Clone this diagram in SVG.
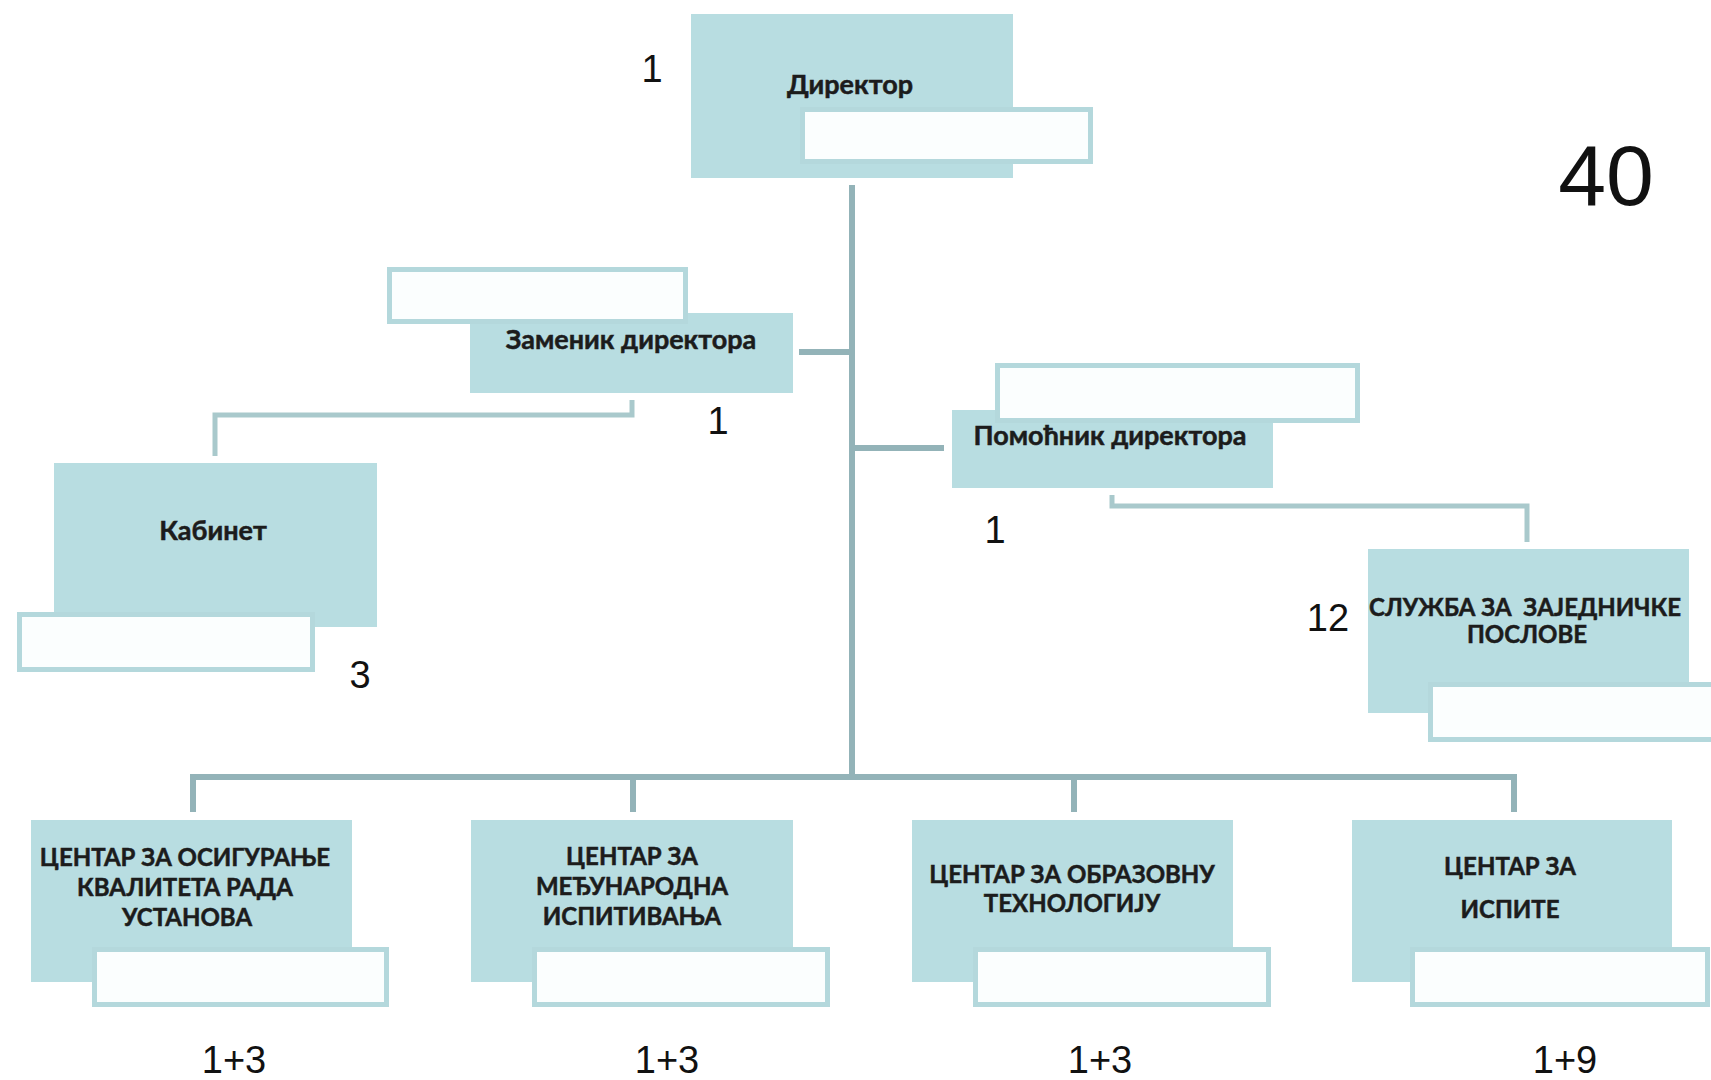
<svg xmlns="http://www.w3.org/2000/svg" width="1711" height="1080" viewBox="0 0 1711 1080">
<style>
.box{fill:#b8dde1}
.note{fill:#fbfefe;stroke:#b4d8dc;stroke-width:5}
.lbl{font-family:Lato,"Open Sans","DejaVu Sans",sans-serif;font-weight:bold;fill:#1c1c1c;stroke:#1c1c1c;stroke-width:0.5;text-anchor:middle}
.big{font-size:27px}
.sm{font-size:24px}
.num{font-family:"Liberation Sans",Arial,sans-serif;font-size:38px;fill:#111;text-anchor:middle}
.trunk{stroke:#93b3b8;stroke-width:6;fill:none}
.sub{stroke:#a9c9cc;stroke-width:5;fill:none}
</style>
<rect width="1711" height="1080" fill="#ffffff"/>
<g id="connectors">
<path class="trunk" d="M852 185V777"/>
<path class="trunk" d="M799 352H852"/>
<path class="trunk" d="M852 448H944"/>
<path class="trunk" d="M193 812V777H1514V812"/>
<path class="trunk" d="M633 777V812"/>
<path class="trunk" d="M1074 777V812"/>
<path class="sub" d="M632 400V415H215V456"/>
<path class="sub" d="M1112 495V506H1527V542"/>
</g>
<g id="director">
<rect class="box" x="691" y="14" width="322" height="164"/>
<rect class="note" x="802.5" y="109.5" width="288" height="52"/>
<text class="lbl big" x="850" y="94">Директор</text>
</g>
<g id="zamenik">
<rect class="box" x="470" y="313" width="323" height="80"/>
<rect class="note" x="389.5" y="269.5" width="296" height="52"/>
<text class="lbl big" x="631" y="349">Заменик директора</text>
</g>
<g id="kabinet">
<rect class="box" x="54" y="463" width="323" height="164"/>
<rect class="note" x="19.5" y="614.5" width="293" height="55"/>
<text class="lbl big" x="213" y="540">Кабинет</text>
</g>
<g id="pomocnik">
<rect class="box" x="952" y="410" width="321" height="78"/>
<rect class="note" x="997.5" y="365.5" width="360" height="55"/>
<text class="lbl big" x="1110" y="445">Помоћник директора</text>
</g>
<g id="sluzba">
<rect class="box" x="1368" y="549" width="321" height="164"/>
<rect class="note" x="1430.5" y="684.5" width="290" height="55"/>
<text class="lbl sm" x="1525" y="616" xml:space="preserve">СЛУЖБА ЗА  ЗАЈЕДНИЧКЕ</text>
<text class="lbl sm" x="1527" y="643">ПОСЛОВЕ</text>
</g>
<g id="centar1">
<rect class="box" x="31" y="820" width="321" height="162"/>
<rect class="note" x="94.5" y="949.5" width="292" height="55"/>
<text class="lbl sm" x="185" y="866">ЦЕНТАР ЗА ОСИГУРАЊЕ</text>
<text class="lbl sm" x="185" y="896">КВАЛИТЕТА РАДА</text>
<text class="lbl sm" x="187" y="926">УСТАНОВА</text>
</g>
<g id="centar2">
<rect class="box" x="471" y="820" width="322" height="162"/>
<rect class="note" x="534.5" y="949.5" width="293" height="55"/>
<text class="lbl sm" x="632" y="865">ЦЕНТАР ЗА</text>
<text class="lbl sm" x="632" y="895">МЕЂУНАРОДНА</text>
<text class="lbl sm" x="632" y="925">ИСПИТИВАЊА</text>
</g>
<g id="centar3">
<rect class="box" x="912" y="820" width="321" height="162"/>
<rect class="note" x="975.5" y="949.5" width="293" height="55"/>
<text class="lbl sm" x="1072" y="883">ЦЕНТАР ЗА ОБРАЗОВНУ</text>
<text class="lbl sm" x="1072" y="912">ТЕХНОЛОГИЈУ</text>
</g>
<g id="centar4">
<rect class="box" x="1352" y="820" width="320" height="162"/>
<rect class="note" x="1412.5" y="949.5" width="295" height="55"/>
<text class="lbl sm" x="1510" y="875">ЦЕНТАР ЗА</text>
<text class="lbl sm" x="1510" y="918">ИСПИТЕ</text>
</g>
<g id="numbers">
<text class="num" x="652" y="82">1</text>
<text class="num" x="718" y="434">1</text>
<text class="num" x="995" y="543">1</text>
<text class="num" x="360" y="688">3</text>
<text class="num" x="1328" y="631">12</text>
<text class="num" x="234" y="1073">1+3</text>
<text class="num" x="667" y="1073">1+3</text>
<text class="num" x="1100" y="1073">1+3</text>
<text class="num" x="1565" y="1073">1+9</text>
<text class="num" x="1606" y="205" style="font-size:86px">40</text>
</g>
</svg>
